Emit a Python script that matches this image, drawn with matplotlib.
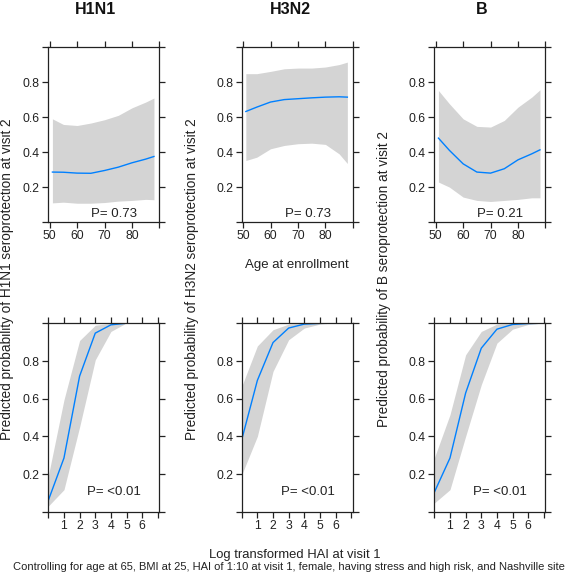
import numpy as np
import matplotlib
matplotlib.use("Agg")
import matplotlib.pyplot as plt

plt.rcParams["font.family"] = ["Liberation Sans", "DejaVu Sans"]

# Data: top row (age at enrollment)
age = [51, 55, 60, 65, 70, 75, 80, 85, 88]
h1_age_fit = [0.286, 0.285, 0.280, 0.279, 0.295, 0.314, 0.339, 0.360, 0.375]
h1_age_lo = [0.110, 0.114, 0.108, 0.108, 0.112, 0.120, 0.124, 0.130, 0.128]
h1_age_hi = [0.590, 0.558, 0.552, 0.566, 0.585, 0.610, 0.653, 0.686, 0.709]

h3_age_fit = [0.632, 0.657, 0.686, 0.700, 0.705, 0.710, 0.714, 0.716, 0.714]
h3_age_lo = [0.352, 0.371, 0.419, 0.438, 0.448, 0.451, 0.444, 0.390, 0.335]
h3_age_hi = [0.848, 0.848, 0.861, 0.876, 0.880, 0.880, 0.886, 0.900, 0.914]

b_age_fit = [0.480, 0.410, 0.333, 0.286, 0.280, 0.305, 0.356, 0.390, 0.413]
b_age_lo = [0.229, 0.200, 0.143, 0.124, 0.118, 0.124, 0.130, 0.139, 0.139]
b_age_hi = [0.752, 0.676, 0.590, 0.547, 0.543, 0.581, 0.657, 0.714, 0.756]

# Data: bottom row (log transformed HAI at visit 1)
h1_hai = [0, 1, 2, 3, 4, 4.9]
h1_hai_fit = [0.060, 0.285, 0.720, 0.948, 0.992, 1.000]
h1_hai_lo = [0.030, 0.117, 0.450, 0.806, 0.957, 0.998]
h1_hai_hi = [0.190, 0.594, 0.909, 0.990, 1.000, 1.000]

h3_hai = [0, 1, 2, 3, 4, 5, 5.4]
h3_hai_fit = [0.382, 0.697, 0.898, 0.975, 0.996, 1.000, 1.000]
h3_hai_lo = [0.196, 0.400, 0.745, 0.913, 0.975, 0.996, 1.000]
h3_hai_hi = [0.665, 0.880, 0.966, 0.996, 1.000, 1.000, 1.000]

b_hai = [0, 1, 2, 3, 4, 5, 6, 6.6]
b_hai_fit = [0.103, 0.285, 0.630, 0.868, 0.969, 0.994, 0.999, 1.000]
b_hai_lo = [0.046, 0.117, 0.400, 0.674, 0.895, 0.969, 0.994, 0.999]
b_hai_hi = [0.285, 0.515, 0.833, 0.957, 0.996, 1.000, 1.000, 1.000]

titles = ["H1N1", "H3N2", "B"]
ylabels = ["Predicted probability of H1N1 seroprotection at visit 2",
           "Predicted probability of H3N2 seroprotection at visit 2",
           "Predicted probability of B seroprotection at visit 2"]
p_top = ["P= 0.73", "P= 0.73", "P= 0.21"]
p_bottom = ["P= <0.01", "P= <0.01", "P= <0.01"]

top_data = [(h1_age_fit, h1_age_lo, h1_age_hi),
            (h3_age_fit, h3_age_lo, h3_age_hi),
            (b_age_fit, b_age_lo, b_age_hi)]
bottom_data = [(h1_hai, h1_hai_fit, h1_hai_lo, h1_hai_hi),
               (h3_hai, h3_hai_fit, h3_hai_lo, h3_hai_hi),
               (b_hai, b_hai_fit, b_hai_lo, b_hai_hi)]

band_col = "#d4d4d4"
line_col = "#0080ff"

fig = plt.figure(figsize=(5.67, 5.74), dpi=100)

lefts = [0.0852, 0.4263, 0.766]
width = 0.196


def style_axis(ax):
    ax.set_ylim(0, 1)
    ax.set_yticks([0, 0.2, 0.4, 0.6, 0.8, 1.0])
    ax.set_yticklabels(["", "0.2", "0.4", "0.6", "0.8", ""])
    ax.tick_params(direction="out", length=4, width=0.9, labelsize=8.8,
                   top=True, right=True, colors="#222222", pad=2)
    for s in ax.spines.values():
        s.set_linewidth(0.9)
        s.set_color("#222222")


for i in range(3):
    # top row
    ax = fig.add_axes([lefts[i], 0.613, width, 0.305])
    fit, lo, hi = top_data[i]
    ax.fill_between(age, lo, hi, color=band_col, lw=0)
    ax.plot(age, fit, color=line_col, lw=1)
    ax.set_xlim(49.5, 89.5)
    ax.set_xticks([50, 60, 70, 80, 90])
    ax.set_xticklabels(["50", "60", "70", "80", ""])
    style_axis(ax)
    ax.text(73.5, 0.045, p_top[i], ha="center", va="center", fontsize=9.5,
            color="#222222")

    # bottom row
    ax2 = fig.add_axes([lefts[i], 0.1085, width, 0.3282])
    x, fit, lo, hi = bottom_data[i]
    ax2.fill_between(x, lo, hi, color=band_col, lw=0)
    ax2.plot(x, fit, color=line_col, lw=1)
    ax2.set_xlim(0, 7.1)
    ax2.set_xticks(range(8))
    ax2.set_xticklabels(["", "1", "2", "3", "4", "5", "6", ""])
    style_axis(ax2)
    ax2.text(4.2, 0.103, p_bottom[i], ha="center", va="center", fontsize=9.5,
             color="#222222")

# titles and labels
for xp, t in zip([95, 290, 482], titles):
    fig.text(xp / 567, 1 - 10 / 574, t, ha="center", va="center",
             fontsize=11.5, fontweight="bold", color="#111111")

for xp, lab in zip([7.5, 192, 384], ylabels):
    fig.text(xp / 567, 1 - 279 / 574, lab, rotation=90, ha="center",
             va="center", fontsize=9.8, color="#222222")

fig.text(297 / 567, 1 - 265 / 574, "Age at enrollment", ha="center",
         va="center", fontsize=9.5, color="#222222")
fig.text(295 / 567, 1 - 555 / 574, "Log transformed HAI at visit 1",
         ha="center", va="center", fontsize=9.4, color="#222222")
fig.text(289 / 567, 1 - 567 / 574,
         "Controlling for age at 65, BMI at 25, HAI of 1:10 at visit 1, female, "
         "having stress and high risk, and Nashville site",
         ha="center", va="center", fontsize=8.0, color="#222222")

fig.savefig("out.png", dpi=100)
